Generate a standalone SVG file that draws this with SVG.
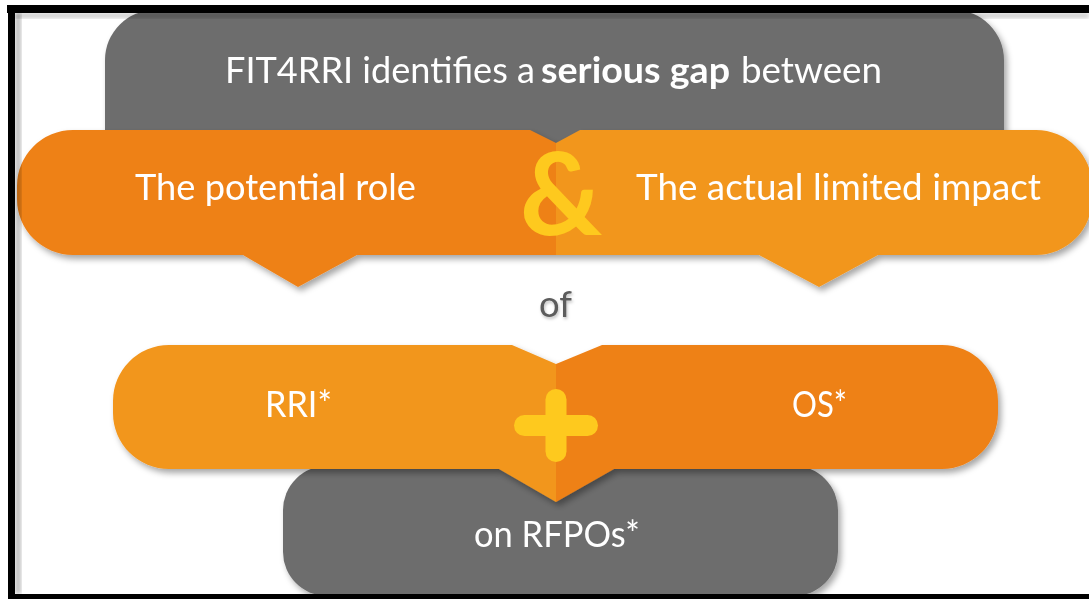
<svg xmlns="http://www.w3.org/2000/svg" width="1089" height="599" viewBox="0 0 1089 599">
  <defs>
    <filter id="shadow" x="-10%" y="-20%" width="120%" height="150%">
      <feDropShadow dx="3" dy="4" stdDeviation="3" flood-color="#000" flood-opacity="0.35"/>
    </filter>
    <filter id="tshadow" x="-20%" y="-30%" width="140%" height="160%">
      <feDropShadow dx="1" dy="2" stdDeviation="1.5" flood-color="#000" flood-opacity="0.25"/>
    </filter>
    <filter id="blur2"><feGaussianBlur stdDeviation="2"/></filter>
  </defs>
  <style>
    .gray { fill: #6d6d6d; }
    .dark { fill: #ee8119; }
    .light { fill: #f2961f; }
    .yellow { fill: #fec91e; }
    .t { font-family: Lato, "Open Sans", "Liberation Sans", sans-serif; font-size: 36px; fill: #ffffff; }
    .b { font-weight: bold; }
    .of { font-family: Lato, "Open Sans", "Liberation Sans", sans-serif; font-size: 36px; fill: #5b5b5b; }
    .amp { font-family: Lato, "Open Sans", "Liberation Sans", sans-serif; font-size: 114px; font-weight: bold; fill: #fec91e; }
  </style>

  <rect x="0" y="0" width="1089" height="599" fill="#ffffff"/>

  <!-- top gray box -->
  <g id="top-box" filter="url(#shadow)">
    <path class="gray" d="M155,10 L954,10 A50,50 0 0 1 1004,60 L1004,150 L105,150 L105,60 A50,50 0 0 1 155,10 Z"/>
    <text class="t" x="225" y="83" textLength="310" lengthAdjust="spacingAndGlyphs">FIT4RRI identifies a</text>
    <text class="t b" x="541" y="83" textLength="189" lengthAdjust="spacingAndGlyphs">serious gap</text>
    <text class="t" x="741" y="83" textLength="141" lengthAdjust="spacingAndGlyphs">between</text>
  </g>

  <!-- top orange band -->
  <g id="top-band" filter="url(#shadow)">
    <g id="potential-role">
      <path class="dark" d="M530,130 L556,143 L556,255 L357,255 L298,287 L243,255 L73,255 A56,56 0 0 1 17,199 L17,186 A56,56 0 0 1 73,130 Z"/>
      <text class="t" x="135" y="200" textLength="281" lengthAdjust="spacingAndGlyphs">The potential role</text>
    </g>
    <g id="limited-impact">
      <path class="light" d="M556,143 L580,130 L1036,130 A56,56 0 0 1 1092,186 L1092,199 A56,56 0 0 1 1036,255 L878,255 L819,287 L759,255 L556,255 Z"/>
      <text class="t" x="636" y="200" textLength="405" lengthAdjust="spacingAndGlyphs">The actual limited impact</text>
    </g>
  </g>
  <g id="ampersand">
    <text class="amp" x="561" y="235" text-anchor="middle">&amp;</text>
  </g>

  <g id="of-label" filter="url(#tshadow)">
    <text class="of" x="539" y="317" textLength="33" lengthAdjust="spacingAndGlyphs">of</text>
  </g>

  <!-- bottom gray box -->
  <g id="bottom-box" filter="url(#shadow)">
    <rect class="gray" x="283" y="466" width="555" height="130" rx="44" ry="44"/>
    <text class="t" x="474" y="547" textLength="166" lengthAdjust="spacingAndGlyphs">on RFPOs*</text>
  </g>

  <!-- second orange band -->
  <g id="mid-band" filter="url(#shadow)">
    <g id="rri">
      <path class="light" d="M169,345 L512,345 L556,364 L556,502 L499,469 L169,469 A56,56 0 0 1 113,413 L113,401 A56,56 0 0 1 169,345 Z"/>
      <text class="t" x="265" y="417" textLength="67" lengthAdjust="spacingAndGlyphs">RRI*</text>
    </g>
    <g id="os">
      <path class="dark" d="M556,364 L602,345 L942,345 A56,56 0 0 1 998,401 L998,413 A56,56 0 0 1 942,469 L614,469 L556,502 Z"/>
      <text class="t" x="792" y="417" textLength="55" lengthAdjust="spacingAndGlyphs">OS*</text>
    </g>
  </g>
  <g id="plus">
    <rect class="yellow" x="514" y="415" width="84" height="21" rx="10.5"/>
    <rect class="yellow" x="545.5" y="389" width="21" height="73" rx="10.5"/>
  </g>

  <g id="connectors"></g>

  <!-- frame -->
  <g id="frame">
    <rect x="15" y="13" width="6" height="581" fill="#000" opacity="0.25" filter="url(#blur2)"/>
    <rect x="15" y="13" width="1074" height="5" fill="#000" opacity="0.2" filter="url(#blur2)"/>
    <rect x="7" y="5" width="1082" height="8" fill="#000"/>
    <rect x="8" y="5" width="7" height="594" fill="#000"/>
    <rect x="8" y="594" width="1081" height="5" fill="#000"/>
  </g>
</svg>
